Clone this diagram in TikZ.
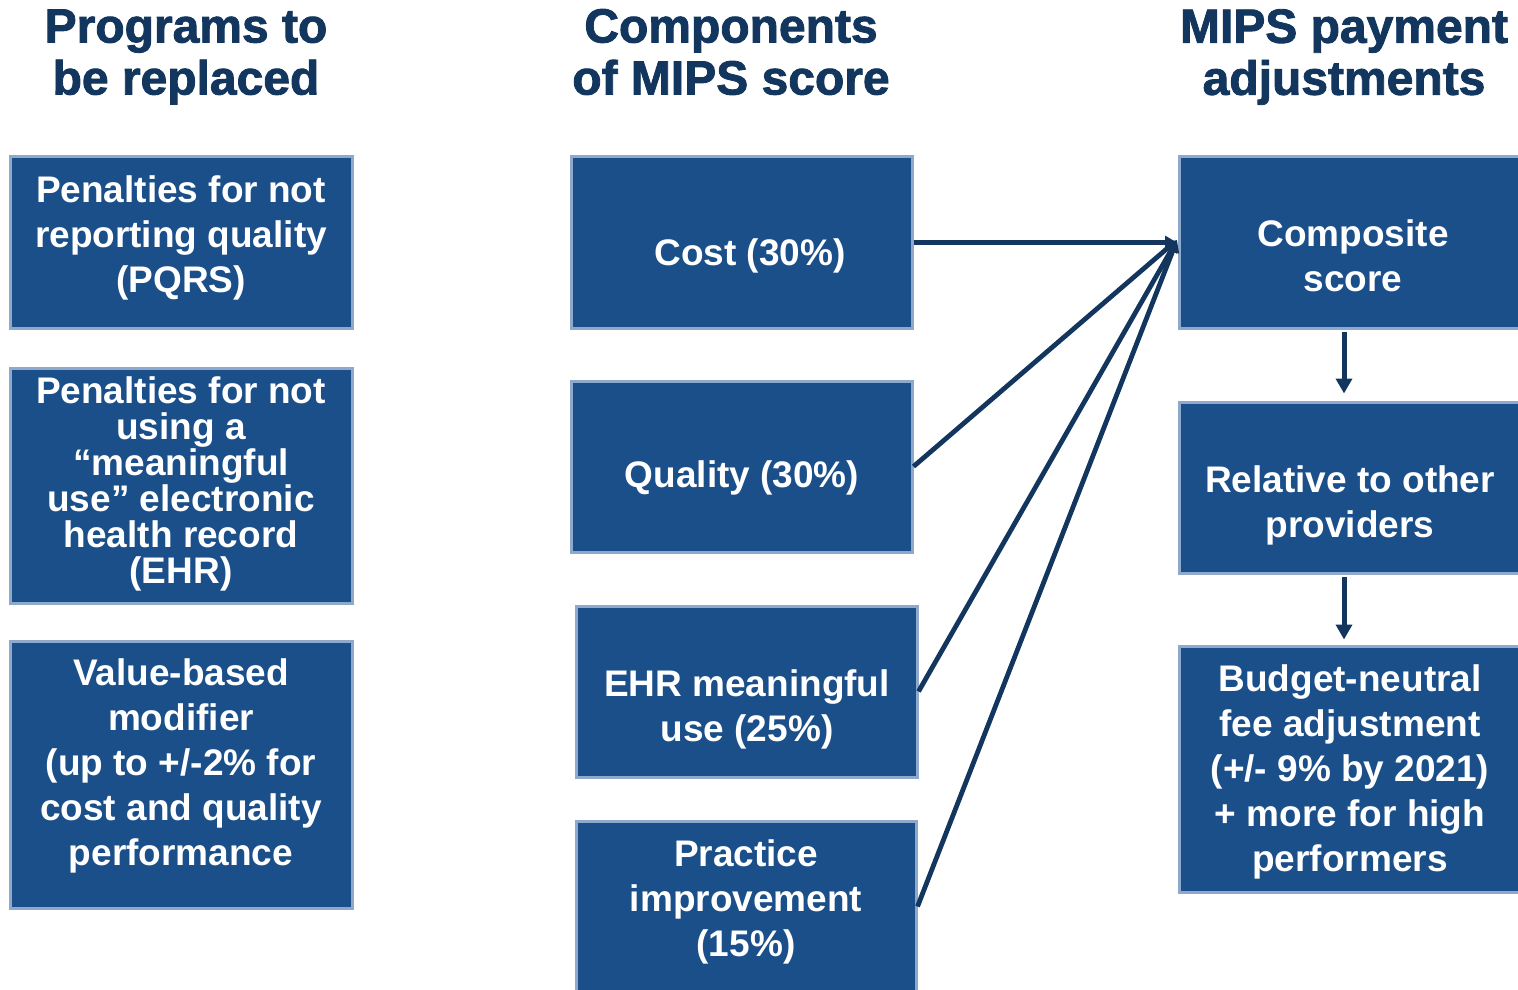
\documentclass[tikz,border=0pt]{standalone}
\usepackage{fontspec}
\setmainfont{Liberation Sans}
\newfontfamily\titlefont{Liberation Sans}[BoldFeatures={FakeBold=1.8}]
\usetikzlibrary{arrows.meta}
\definecolor{boxfill}{RGB}{27,79,138}
\definecolor{boxborder}{RGB}{143,169,204}
\definecolor{dark}{RGB}{18,54,94}
\tikzset{
  box/.style={draw=boxborder, line width=1.5pt, fill=boxfill, rectangle, inner sep=0pt},
  boxtext/.style={text=white, font=\fontsize{18.5}{22.5}\selectfont\bfseries, align=center, inner sep=0pt},
  tighttext/.style={boxtext, font=\fontsize{18.5}{18}\selectfont\bfseries},
  title/.style={text=dark, font=\titlefont\fontsize{24}{26}\selectfont\bfseries, align=center, inner sep=0pt},
  conn/.style={draw=dark, line width=2.4pt, -{Triangle[length=6pt,width=6.5pt]}},
  vconn/.style={draw=dark, line width=2.5pt, -{Triangle[length=7.5pt,width=8pt]}},
}
\begin{document}
\begin{tikzpicture}[x=0.5pt,y=-0.5pt]
\useasboundingbox (0,0) rectangle (1518,989);
\clip (0,0) rectangle (1518,989);
% titles
\node[title] (t1) at (186,57) {Programs to\\be replaced};
\node[title] (t2) at (731,52) {Components\\of MIPS score};
\node[title] (t3) at (1344,57) {MIPS payment\\adjustments};
% left column
\node[box, minimum width=171pt, minimum height=85.5pt] (b1) at (181,242.5) {};
\node[boxtext] (b1t) at (181,238) {Penalties for not\\reporting quality\\(PQRS)};
\node[box, minimum width=171pt, minimum height=117.5pt] (b2) at (181,485.5) {};
\node[tighttext] (b2t) at (181,484) {Penalties for not\\using a\\“meaningful\\use” electronic\\health record\\(EHR)};
\node[box, minimum width=171pt, minimum height=133.5pt] (b3) at (181,774.5) {};
\node[boxtext] (b3t) at (181,766) {Value-based\\modifier\\(up to +/-2\% for\\cost and quality\\performance};
% middle column
\node[box, minimum width=170.5pt, minimum height=85.5pt] (cost) at (741.5,242.5) {};
\node[boxtext] (costt) at (750,256) {Cost (30\%)};
\node[box, minimum width=170.5pt, minimum height=85.5pt] (qual) at (741.5,466.5) {};
\node[boxtext] (qualt) at (742,478) {Quality (30\%)};
\node[box, minimum width=170.5pt, minimum height=85.5pt] (ehr) at (746.5,691.5) {};
\node[boxtext] (ehrt) at (747,709) {EHR meaningful\\use (25\%)};
\node[box, minimum width=170pt, minimum height=85.5pt] (prac) at (746,906.5) {};
\node[boxtext] (pract) at (746,902) {Practice\\improvement\\(15\%)};
% right column
\node[box, minimum width=170.5pt, minimum height=85.5pt] (comp) at (1349.5,242.5) {};
\node[boxtext] (compt) at (1353,256) {Composite\\score};
\node[box, minimum width=170.5pt, minimum height=85.5pt] (rel) at (1349.5,487.5) {};
\node[boxtext] (relt) at (1350,505) {Relative to other\\providers};
\node[box, minimum width=170.5pt, minimum height=123pt] (bud) at (1349.5,769) {};
\node[boxtext] (budt) at (1350,772) {Budget-neutral\\fee adjustment\\(+/- 9\% by 2021)\\+ more for high\\performers};
% connectors
\coordinate (conv) at (1177,240);
\coordinate (ax) at (1344,0);
\draw[conn] (qual.east) -- (conv);
\draw[conn] (ehr.east) -- (conv);
\draw[conn] (prac.east) -- (conv);
\draw[conn] (cost.east) -- (cost.east -| conv);
\draw[vconn, shorten <=1pt, shorten >=3.5pt] (comp.south -| ax) -- (rel.north -| ax);
\draw[vconn, shorten <=1pt, shorten >=2.5pt] (rel.south -| ax) -- (bud.north -| ax);
\end{tikzpicture}
\end{document}
